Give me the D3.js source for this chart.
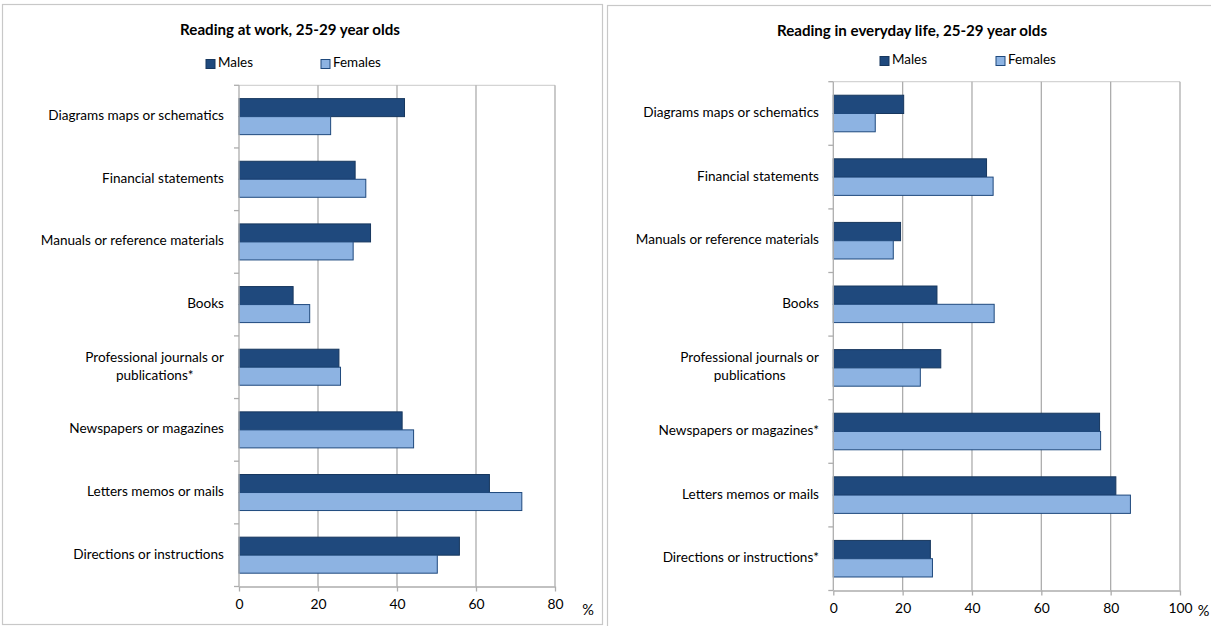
<!DOCTYPE html>
<html>
<head>
<meta charset="utf-8">
<script src="https://cdn.jsdelivr.net/npm/d3@7"></script>
<style>
  html, body { margin: 0; padding: 0; background: #fff; }
  svg { display: block; }
  text { font-family: Lato, "Liberation Sans", sans-serif; fill: #000; }
</style>
</head>
<body>
<svg id="chart" width="1211" height="626"></svg>
<script>
// ---- Data ----
const seriesNames = ["Males", "Females"];

const workTitle = "Reading at work, 25-29 year olds";
const workCategories = [
  "Diagrams maps or schematics",
  "Financial statements",
  "Manuals or reference materials",
  "Books",
  "Professional journals or\npublications*",
  "Newspapers or magazines",
  "Letters memos or mails",
  "Directions or instructions"
];
const workMales   = [41.9, 29.4, 33.3, 13.7, 25.3, 41.3, 63.4, 55.8];
const workFemales = [23.2, 32.1, 28.9, 17.9, 25.7, 44.2, 71.6, 50.2];
const workTicks   = [0, 20, 40, 60, 80];

const lifeTitle = "Reading in everyday life, 25-29 year olds";
const lifeCategories = [
  "Diagrams maps or schematics",
  "Financial statements",
  "Manuals or reference materials",
  "Books",
  "Professional journals or\npublications",
  "Newspapers or magazines*",
  "Letters memos or mails",
  "Directions or instructions*"
];
const lifeMales   = [20.3, 44.2, 19.4, 29.9, 31.0, 76.8, 81.5, 28.0];
const lifeFemales = [12.1, 46.1, 17.3, 46.4, 25.1, 77.1, 85.7, 28.6];
const lifeTicks   = [0, 20, 40, 60, 80, 100];

const unitLabel = "%";

// ---- Styles ----
const colors = { Males: "#1F497D", Females: "#8DB3E2" };
const strokes = { Males: "#17375E", Females: "#1F497D" };
const gridColor = "#ADADAD";

const svg = d3.select("#chart");

function fitSize(str, targetW, weight, base) {
  const t = svg.append("text").attr("font-size", base).attr("font-weight", weight).text(str);
  const w = t.node().getComputedTextLength();
  t.remove();
  return base * targetW / w;
}
const catFont = fitSize("Diagrams maps or schematics", 176, "normal", 13);
const titleFont = fitSize(workTitle, 220, "bold", 13);
const legFont = fitSize("Females", 48, "normal", 13);
const tickFont = catFont * 1.02;

function drawPanel(cfg) {
  const g = svg.append("g");
  g.append("rect")
    .attr("x", cfg.box[0]).attr("y", cfg.box[1])
    .attr("width", cfg.box[2]).attr("height", cfg.box[3])
    .attr("fill", "#fff").attr("stroke", "#C8C8C8").attr("stroke-width", 1.2);

  const x = d3.scaleLinear().domain([0, cfg.ticks[cfg.ticks.length - 1]]).range([cfg.x0, cfg.x1]);
  const y = d3.scaleBand().domain(cfg.categories).range([cfg.y0, cfg.y1]).paddingInner(0).paddingOuter(0);
  const sub = d3.scaleBand().domain(seriesNames).range([0, y.bandwidth()]).paddingInner(0).paddingOuter(0.739);

  g.append("line").attr("x1", cfg.x0).attr("x2", cfg.x1).attr("y1", cfg.y0).attr("y2", cfg.y0)
    .attr("stroke", "#D4D4D4").attr("stroke-width", 1.2);

  g.append("g").selectAll("line").data(cfg.ticks.slice(1)).join("line")
    .attr("x1", d => x(d)).attr("x2", d => x(d))
    .attr("y1", cfg.y0).attr("y2", cfg.y1)
    .attr("stroke", gridColor).attr("stroke-width", 1.3);

  const rows = cfg.categories.map((c, i) => ({ c, Males: cfg.males[i], Females: cfg.females[i] }));
  const grp = g.append("g").selectAll("g").data(rows).join("g")
    .attr("transform", d => `translate(0,${y(d.c)})`);
  grp.selectAll("rect").data(d => seriesNames.map(s => ({ s, v: d[s] }))).join("rect")
    .attr("x", x(0))
    .attr("y", d => sub(d.s))
    .attr("width", d => x(d.v) - x(0))
    .attr("height", sub.bandwidth())
    .attr("fill", d => colors[d.s])
    .attr("stroke", d => strokes[d.s])
    .attr("stroke-width", 1);

  const xAxis = d3.axisBottom(x).tickValues(cfg.ticks).tickSize(5).tickPadding(6).tickSizeOuter(0);
  const xa = g.append("g").attr("transform", `translate(0,${cfg.y1})`).call(xAxis);
  xa.select(".domain").attr("stroke", gridColor).attr("stroke-width", 1.3);
  xa.selectAll(".tick line").attr("stroke", gridColor).attr("stroke-width", 1.3);
  xa.selectAll(".tick text").attr("font-size", tickFont).attr("font-family", null).attr("fill", "#000")
    .attr("dy", "0.85em");

  g.append("text").attr("x", cfg.pct[0]).attr("y", cfg.pct[1])
    .attr("text-anchor", "middle").attr("dominant-baseline", "middle")
    .attr("font-size", tickFont * 1.05).text(unitLabel);

  const yb = cfg.categories.map(c => y(c)).concat([cfg.y1]);
  g.append("line").attr("x1", cfg.x0).attr("x2", cfg.x0).attr("y1", cfg.y0).attr("y2", cfg.y1)
    .attr("stroke", gridColor).attr("stroke-width", 1.3);
  g.append("g").selectAll("line").data(yb).join("line")
    .attr("x1", cfg.x0 - 5).attr("x2", cfg.x0).attr("y1", d => d).attr("y2", d => d)
    .attr("stroke", gridColor).attr("stroke-width", 1.3);

  cfg.categories.forEach(c => {
    const lines = c.split("\n");
    const cy = y(c) + y.bandwidth() / 2;
    const lh = 18;
    const t = g.append("text").attr("font-size", catFont);
    lines.forEach((ln, i) => {
      t.append("tspan").attr("x", 0).attr("y", cy + (i - (lines.length - 1) / 2) * lh)
        .attr("dominant-baseline", "middle").text(ln);
    });
    const widths = [];
    t.selectAll("tspan").each(function () { widths.push(this.getComputedTextLength()); });
    const bw = d3.max(widths);
    t.selectAll("tspan").attr("text-anchor", "middle").attr("x", cfg.labelRight - bw / 2);
  });

  g.append("text").attr("x", cfg.title[0]).attr("y", cfg.title[1])
    .attr("text-anchor", "middle").attr("dominant-baseline", "middle")
    .attr("font-weight", "bold").attr("font-size", titleFont).text(cfg.titleText);

  seriesNames.forEach((s, i) => {
    const lx = cfg.legend[i];
    g.append("rect").attr("x", lx).attr("y", cfg.legendY - 4.5).attr("width", 9).attr("height", 9)
      .attr("fill", colors[s]).attr("stroke", strokes[s]).attr("stroke-width", 1);
    g.append("text").attr("x", lx + 12).attr("y", cfg.legendY)
      .attr("dominant-baseline", "middle").attr("font-size", legFont).text(s);
  });
}

drawPanel({
  box: [2.5, 4.5, 600, 620],
  x0: 239, x1: 555, y0: 85.3, y1: 586.5,
  ticks: workTicks, categories: workCategories, males: workMales, females: workFemales,
  labelRight: 224, title: [290, 31], titleText: workTitle,
  legend: [206, 321], legendY: 64, pct: [588, 611]
});

drawPanel({
  box: [607.5, 5.5, 700, 700],
  x0: 833.3, x1: 1180, y0: 81.7, y1: 590.5,
  ticks: lifeTicks, categories: lifeCategories, males: lifeMales, females: lifeFemales,
  labelRight: 819, title: [912, 32], titleText: lifeTitle,
  legend: [880, 996], legendY: 61, pct: [1203.5, 612]
});
</script>
</body>
</html>
